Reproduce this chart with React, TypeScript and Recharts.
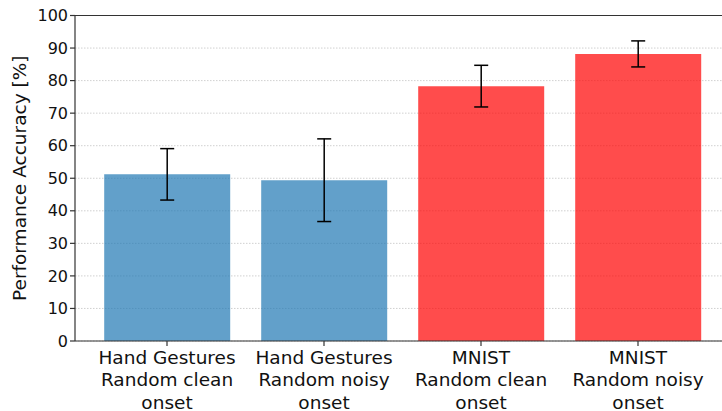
import { Bar, BarChart, CartesianGrid, Cell, ErrorBar, ReferenceLine, XAxis, YAxis } from "recharts";

const categories = [
  "Hand Gestures\nRandom clean\nonset",
  "Hand Gestures\nRandom noisy\nonset",
  "MNIST\nRandom clean\nonset",
  "MNIST\nRandom noisy\nonset",
];
const accuracy = [51.2, 49.4, 78.3, 88.2];
const accuracyErr = [7.9, 12.7, 6.4, 4.0];
const yTicks = [0, 10, 20, 30, 40, 50, 60, 70, 80, 90, 100];

const barColors = ["#1f77b4", "#1f77b4", "#ff0000", "#ff0000"];
const font = "'DejaVu Sans', sans-serif";
const ink = "#111";
const spine = "#333";

const data = categories.map((name, i) => ({
  name,
  value: accuracy[i],
  err: accuracyErr[i],
}));

const CategoryTick = (props: any) => {
  const { x, y, payload } = props;
  const lines = String(payload.value).split("\n");
  return (
    <g transform={`translate(${x},${y})`}>
      <text textAnchor="middle" fontSize={18.5} fontFamily={font} fill={ink}>
        {lines.map((line, i) => (
          <tspan key={i} x={0} y={15.5 + i * 22.5}>
            {line}
          </tspan>
        ))}
      </text>
    </g>
  );
};

export default function App() {
  return (
    <div
      style={{
        position: "absolute",
        left: 0,
        top: 0,
        width: 722,
        height: 411,
        overflow: "hidden",
        background: "#fff",
      }}
    >
      <BarChart
        width={740}
        height={411}
        data={data}
        margin={{ top: 15.5, right: 10, bottom: 0, left: 0 }}
        barCategoryGap="10%"
      >
        <CartesianGrid
          vertical={false}
          stroke="#c4c4c4"
          strokeDasharray="1.5 1.5"
          strokeWidth={0.8}
        />
        <XAxis
          dataKey="name"
          height={70}
          padding={{ left: 13.5, right: 13.5 }}
          interval={0}
          tick={<CategoryTick />}
          tickSize={5}
          stroke={spine}
          strokeWidth={1.2}
          tickLine={{ stroke: spine }}
        />
        <YAxis
          width={75}
          domain={[0, 100]}
          ticks={yTicks}
          interval={0}
          tickSize={5}
          tick={{ fontSize: 16, fill: ink, fontFamily: font }}
          stroke={spine}
          strokeWidth={1.2}
          label={{
            value: "Performance Accuracy [%]",
            angle: -90,
            position: "insideLeft",
            offset: 19,
            style: { textAnchor: "middle", fontSize: 18.5, fill: ink, fontFamily: font },
          }}
        />
        <ReferenceLine y={100} stroke={spine} strokeWidth={1.2} />
        <Bar dataKey="value" fillOpacity={0.7} isAnimationActive={false}>
          {data.map((_, i) => (
            <Cell key={i} fill={barColors[i]} />
          ))}
          <ErrorBar
            dataKey="err"
            direction="y"
            width={7}
            stroke="#000"
            strokeWidth={1.5}
            isAnimationActive={false}
          />
        </Bar>
      </BarChart>
    </div>
  );
}
